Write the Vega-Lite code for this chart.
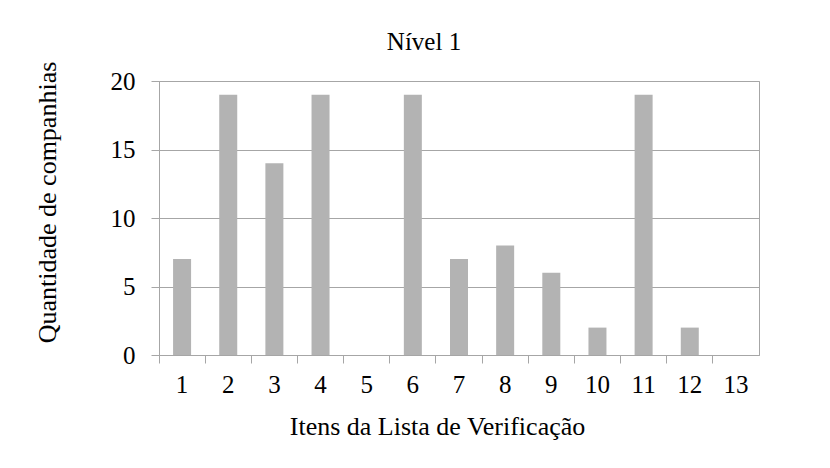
{
  "$schema": "https://vega.github.io/schema/vega-lite/v6.json",
  "width": 600,
  "height": 274,
  "autosize": "none",
  "padding": {"left": 159, "top": 81, "right": 71, "bottom": 113},
  "background": "white",
  "title": {"text": "Nível 1", "font": "Liberation Serif", "fontSize": 25, "fontWeight": "normal", "color": "#000000", "offset": 6, "anchor": "middle", "dx": -35},
  "config": {
    "view": {"stroke": "#a6a6a6", "strokeWidth": 1},
    "axis": {"labelFont": "Liberation Serif", "titleFont": "Liberation Serif", "labelFontSize": 25, "titleFontSize": 26, "titleFontWeight": "normal", "labelColor": "#000000", "titleColor": "#000000", "domainColor": "#a6a6a6", "tickColor": "#a6a6a6", "gridColor": "#a6a6a6"}
  },
  "data": {"values": [
    {"item": "1", "n": 7}, {"item": "2", "n": 19}, {"item": "3", "n": 14}, {"item": "4", "n": 19},
    {"item": "5", "n": 0}, {"item": "6", "n": 19}, {"item": "7", "n": 7}, {"item": "8", "n": 8},
    {"item": "9", "n": 6}, {"item": "10", "n": 2}, {"item": "11", "n": 19}, {"item": "12", "n": 2},
    {"item": "13", "n": 0}
  ]},
  "mark": {"type": "bar", "color": "#b3b3b3", "width": {"band": 0.39}},
  "encoding": {
    "x": {"field": "item", "type": "ordinal", "sort": null,
      "scale": {"paddingInner": 0, "paddingOuter": 0},
      "axis": {"title": "Itens da Lista de Verificação", "labelAngle": 0, "bandPosition": 0, "labelAlign": "center", "tickSize": 8, "labelPadding": 9, "titlePadding": 16, "titleX": 278, "grid": false}},
    "y": {"field": "n", "type": "quantitative",
      "scale": {"domain": [0, 20], "nice": false},
      "axis": {"title": "Quantidade de companhias", "values": [0, 5, 10, 15, 20], "tickSize": 8, "labelPadding": 16, "titlePadding": 50, "titleY": 121, "grid": true}}
  }
}
